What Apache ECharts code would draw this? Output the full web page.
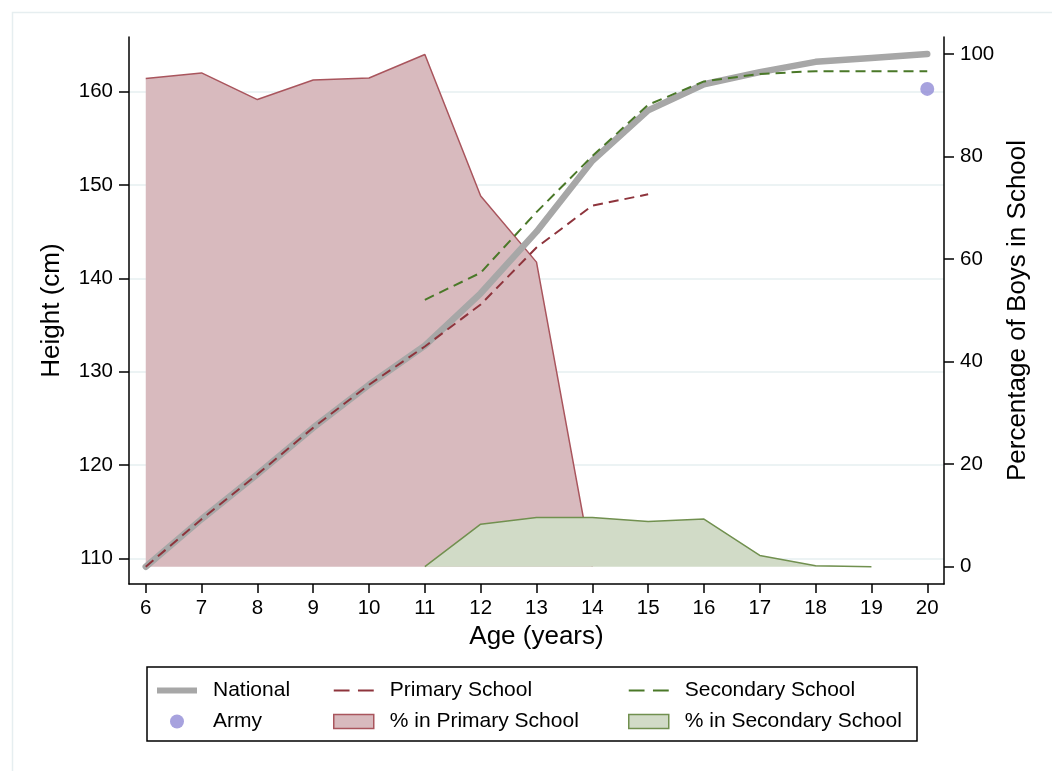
<!DOCTYPE html>
<html>
<head>
<meta charset="utf-8">
<script src="https://cdn.jsdelivr.net/npm/echarts@6/dist/echarts.min.js"></script>
<style>
html,body{margin:0;padding:0;background:#fff;}
#chart{width:1052px;height:771px;}
</style>
</head>
<body>
<div id="chart"></div>
<script>
// ---- data ----
const ages = [6,7,8,9,10,11,12,13,14,15,16,17,18,19,20];
const xTicks = [6,7,8,9,10,11,12,13,14,15,16,17,18,19,20];
const heightTicks = [110,120,130,140,150,160];
const pctTicks = [0,20,40,60,80,100];

const nationalHeight = [109.1,114.2,119.0,124.0,128.6,132.8,138.4,145.0,152.6,158.0,160.8,162.1,163.2,163.6,164.05];
const primaryAges = [6,7,8,9,10,11,12,13,14,15];
const primaryHeight = [109.1,114.2,119.0,124.0,128.6,132.7,137.2,143.3,147.8,149.0];
const secondaryAges = [11,12,13,14,15,16,17,18,19,20];
const secondaryHeight = [137.7,140.6,147.1,153.1,158.6,161.1,161.9,162.2,162.2,162.2];
const armyAge = [20];
const armyHeight = [160.3];
const pctPrimaryAges = [6,7,8,9,10,11,12,13,14];
const pctPrimary = [95.2,96.3,91.1,94.9,95.3,99.9,72.3,59.4,0];
const pctSecondaryAges = [11,12,13,14,15,16,17,18,19];
const pctSecondary = [0,8.3,9.6,9.6,8.8,9.3,2.2,0.2,0];

const zip = (xs, ys) => xs.map((x, i) => [x, ys[i]]);

const FONT = '"Liberation Sans", Arial, Helvetica, sans-serif';
const C = {
  gray: '#a7a7a7', red: '#8e343c', green: '#4a7828',
  pinkFill: '#d8babe', pinkLine: '#a9555d',
  greenFill: '#d1dbc7', greenLine: '#71904f',
  army: '#918bd6', grid: '#e6eff1'
};

const DASH_ICON = 'path://M0,0 L15,0 L15,2 L0,2 Z M23,0 L38,0 L38,2 L23,2 Z';

const chart = echarts.init(document.getElementById('chart'), null, {renderer: 'canvas'});

const legendText = {fontFamily: FONT, fontSize: 21, color: '#000', padding: [0,0,0,11]};
function legendCol(left, names) {
  return {
    orient: 'vertical', left: left, top: 680, padding: 0, itemWidth: 40, itemHeight: 14, itemGap: 10,
    textStyle: legendText, selectedMode: false, data: names
  };
}

const option = {
  backgroundColor: '#fff',
  animation: false,
  textStyle: {fontFamily: FONT},
  grid: {left: 129, right: 108, top: 37, bottom: 187, containLabel: false},
  graphic: [
    {type: 'rect', left: 10, top: 10, shape: {x: 0, y: 0, width: 1100, height: 800},
     style: {fill: 'none', stroke: '#e6eef0', lineWidth: 1.5}, silent: true, z: -10},
    {type: 'rect', shape: {x: 147, y: 667, width: 770, height: 74},
     style: {fill: 'none', stroke: '#000', lineWidth: 1.5}, silent: true}
  ],
  legend: [
    legendCol(157, [
      {name: 'National', icon: 'path://M0,0 L40,0 L40,6 L0,6 Z', itemStyle: {color: C.gray, borderWidth: 0}},
      {name: 'Army', icon: 'circle', itemStyle: {color: C.army, borderWidth: 0}}
    ]),
    legendCol(333, [
      {name: 'Primary School', icon: DASH_ICON, itemStyle: {color: C.red, borderWidth: 0}},
      {name: '% in Primary School', icon: 'rect', itemStyle: {color: C.pinkFill, borderColor: C.pinkLine, borderWidth: 1.5}}
    ]),
    legendCol(628, [
      {name: 'Secondary School', icon: DASH_ICON, itemStyle: {color: C.green, borderWidth: 0}},
      {name: '% in Secondary School', icon: 'rect', itemStyle: {color: C.greenFill, borderColor: C.greenLine, borderWidth: 1.5}}
    ])
  ],
  xAxis: {
    type: 'value', min: 5.7, max: 20.3,
    name: 'Age (years)', nameLocation: 'middle', nameGap: 35,
    nameTextStyle: {fontSize: 26, color: '#000', fontFamily: FONT},
    axisLine: {onZero: false, lineStyle: {color: '#000', width: 1.5}},
    axisTick: {length: 9, lineStyle: {color: '#000', width: 1.5}, customValues: xTicks},
    axisLabel: {fontSize: 20.5, color: '#000', margin: 14, fontFamily: FONT, customValues: xTicks},
    splitLine: {show: false}
  },
  yAxis: [
    {
      type: 'value', position: 'left', min: 107.25, max: 165.86,
      name: 'Height (cm)', nameLocation: 'middle', nameGap: 64, nameRotate: 90,
      nameTextStyle: {fontSize: 26, color: '#000', fontFamily: FONT},
      axisLine: {show: true, onZero: false, lineStyle: {color: '#000', width: 1.5}},
      axisTick: {show: true, length: 10, lineStyle: {color: '#000', width: 1.5}, customValues: heightTicks},
      axisLabel: {fontSize: 20.5, color: '#000', margin: 16, fontFamily: FONT, customValues: heightTicks},
      splitLine: {show: true, lineStyle: {color: C.grid, width: 1.5}}
    },
    {
      type: 'value', position: 'right', min: -3.37, max: 103.3,
      name: 'Percentage of Boys in School', nameLocation: 'middle', nameGap: 60, nameRotate: 90,
      nameTextStyle: {fontSize: 26, color: '#000', fontFamily: FONT},
      axisLine: {show: true, onZero: false, lineStyle: {color: '#000', width: 1.5}},
      axisTick: {show: true, length: 10, lineStyle: {color: '#000', width: 1.5}, customValues: pctTicks},
      axisLabel: {fontSize: 20.5, color: '#000', margin: 16, fontFamily: FONT, customValues: pctTicks},
      splitLine: {show: false}
    }
  ],
  series: [
    {
      name: '% in Primary School', type: 'line', yAxisIndex: 1, symbol: 'none', z: 1,
      data: zip(pctPrimaryAges, pctPrimary),
      lineStyle: {color: C.pinkLine, width: 1.5},
      itemStyle: {color: C.pinkFill},
      areaStyle: {color: C.pinkFill, opacity: 1}
    },
    {
      name: '% in Secondary School', type: 'line', yAxisIndex: 1, symbol: 'none', z: 2,
      data: zip(pctSecondaryAges, pctSecondary),
      lineStyle: {color: C.greenLine, width: 1.5},
      itemStyle: {color: C.greenFill},
      areaStyle: {color: C.greenFill, opacity: 1}
    },
    {
      name: 'National', type: 'line', yAxisIndex: 0, symbol: 'none', z: 3,
      data: zip(ages, nationalHeight),
      lineStyle: {color: C.gray, width: 6.5, cap: 'round', join: 'round'},
      itemStyle: {color: C.gray}
    },
    {
      name: 'Primary School', type: 'line', yAxisIndex: 0, symbol: 'none', z: 4,
      data: zip(primaryAges, primaryHeight),
      lineStyle: {color: C.red, width: 2, type: [10, 6]},
      itemStyle: {color: C.red}
    },
    {
      name: 'Secondary School', type: 'line', yAxisIndex: 0, symbol: 'none', z: 4,
      data: zip(secondaryAges, secondaryHeight),
      lineStyle: {color: C.green, width: 2, type: [10, 6]},
      itemStyle: {color: C.green}
    },
    {
      name: 'Army', type: 'scatter', yAxisIndex: 0, symbol: 'circle', symbolSize: 14, z: 5,
      data: zip(armyAge, armyHeight),
      itemStyle: {color: C.army}
    }
  ]
};
chart.setOption(option);
</script>
</body>
</html>
